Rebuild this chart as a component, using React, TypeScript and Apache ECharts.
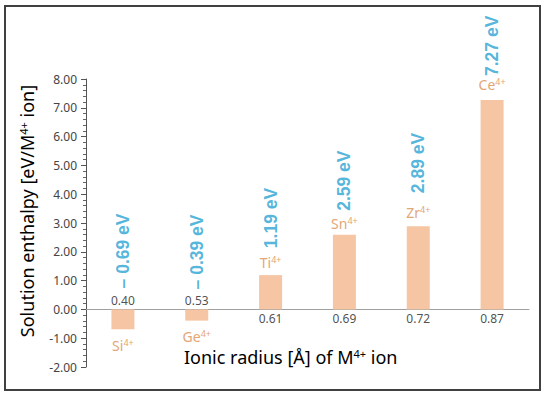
import React, { useEffect, useRef } from "react";
import * as echarts from "echarts";

const categories = ["0.40", "0.53", "0.61", "0.69", "0.72", "0.87"];
const ions = ["Si", "Ge", "Ti", "Sn", "Zr", "Ce"];
const ionCharge = "4+";
const enthalpy = [-0.69, -0.39, 1.19, 2.59, 2.89, 7.27];
const valueLabels = ["– 0.69 eV", "– 0.39 eV", "1.19 eV", "2.59 eV", "2.89 eV", "7.27 eV"];
const yMin = -2;
const yMax = 8;
const yStep = 1;

// label placement styles (pixels)
const ionGap = [8, 8, 5, 3, 6, 8];
const valueGap = [21, 20, 27, 24, 33, 24];

const BAR = "#F6C5A3";
const BLUE = "#29A2D2";
const ORANGE = "#E3A676";
const FONT = "'Noto Sans', 'Open Sans', sans-serif";

export default function App() {
  const ref = useRef<HTMLDivElement>(null);
  useEffect(() => {
    document.body.style.margin = "0";
    const chart = echarts.init(ref.current!, null, { renderer: "svg" });
    const ionRich = {
      el: { color: ORANGE, fontSize: 14, fontFamily: FONT, lineHeight: 16 },
      sup: { color: ORANGE, fontSize: 9, fontFamily: FONT, lineHeight: 16, padding: [0, 0, 6, 0] },
    };
    chart.setOption({
      animation: false,
      backgroundColor: "#ffffff",
      grid: { left: 86, right: 21, top: 79, bottom: 31, containLabel: false },
      xAxis: {
        type: "category",
        data: categories,
        axisLine: { show: true, onZero: true, lineStyle: { color: "#A0A0A0", width: 1 } },
        axisTick: { show: false },
        axisLabel: { show: false },
        splitLine: { show: false },
      },
      yAxis: {
        type: "value",
        min: yMin,
        max: yMax,
        interval: yStep,
        axisLine: { show: true, lineStyle: { color: "#555", width: 1 } },
        axisTick: { show: true, length: 5, lineStyle: { color: "#555" } },
        minorTick: { show: true, splitNumber: 5, length: 3, lineStyle: { color: "#666" } },
        splitLine: { show: false },
        axisLabel: {
          formatter: (v: number) => v.toFixed(2),
          color: "#444",
          fontSize: 12,
          fontFamily: FONT,
          margin: 9,
        },
      },
      graphic: [
        {
          type: "rect",
          shape: { x: 5, y: 6, width: 535, height: 384 },
          style: { fill: "none", stroke: "#404040", lineWidth: 2 },
          z: 100,
        },
        {
          type: "text",
          x: 184,
          y: 357,
          style: {
            text: "{n|Ionic radius [Å] of M}{s|4+}{n| ion}",
            align: "left",
            verticalAlign: "middle",
            rich: {
              n: { fontSize: 18, fontFamily: FONT, color: "#1a1a1a", lineHeight: 22 },
              s: { fontSize: 11, fontFamily: FONT, color: "#1a1a1a", lineHeight: 22, padding: [0, 0, 8, 0] },
            },
          },
        },
        {
          type: "text",
          x: 27,
          y: 211,
          rotation: Math.PI / 2,
          style: {
            text: "{n|Solution enthalpy [eV/M}{s|4+}{n| ion]}",
            align: "center",
            verticalAlign: "middle",
            rich: {
              n: { fontSize: 18, fontFamily: FONT, color: "#1a1a1a", lineHeight: 22 },
              s: { fontSize: 11, fontFamily: FONT, color: "#1a1a1a", lineHeight: 22, padding: [0, 0, 8, 0] },
            },
          },
        },
      ],
      series: [
        {
          type: "bar",
          barWidth: 23,
          itemStyle: { color: BAR },
          data: enthalpy.map((v, i) => ({
            value: v,
            label: {
              show: true,
              position: v >= 0 ? "top" : "bottom",
              distance: ionGap[i],
              formatter: `{el|${ions[i]}}{sup|${ionCharge}}`,
              rich: ionRich,
            },
          })),
        },
        {
          type: "scatter",
          symbolSize: 0,
          z: 5,
          data: enthalpy.map((v, i) => ({
            value: [categories[i], Math.max(v, 0)],
            label: {
              show: true,
              position: "top",
              distance: valueGap[i],
              rotate: 90,
              align: "left",
              verticalAlign: "middle",
              formatter: valueLabels[i],
              color: BLUE,
              fontSize: 17.5,
              fontWeight: "bold",
              fontFamily: "'Liberation Sans', Arial, sans-serif",
            },
          })),
        },
        {
          type: "scatter",
          symbolSize: 0,
          z: 5,
          data: enthalpy.map((v, i) => ({
            value: [categories[i], 0],
            label: {
              show: true,
              position: v < 0 ? "top" : "bottom",
              distance: 3,
              formatter: categories[i],
              color: "#222",
              fontSize: 12,
              fontFamily: FONT,
            },
          })),
        },
      ],
    });
    return () => chart.dispose();
  }, []);
  return <div ref={ref} style={{ width: 550, height: 398 }} />;
}
